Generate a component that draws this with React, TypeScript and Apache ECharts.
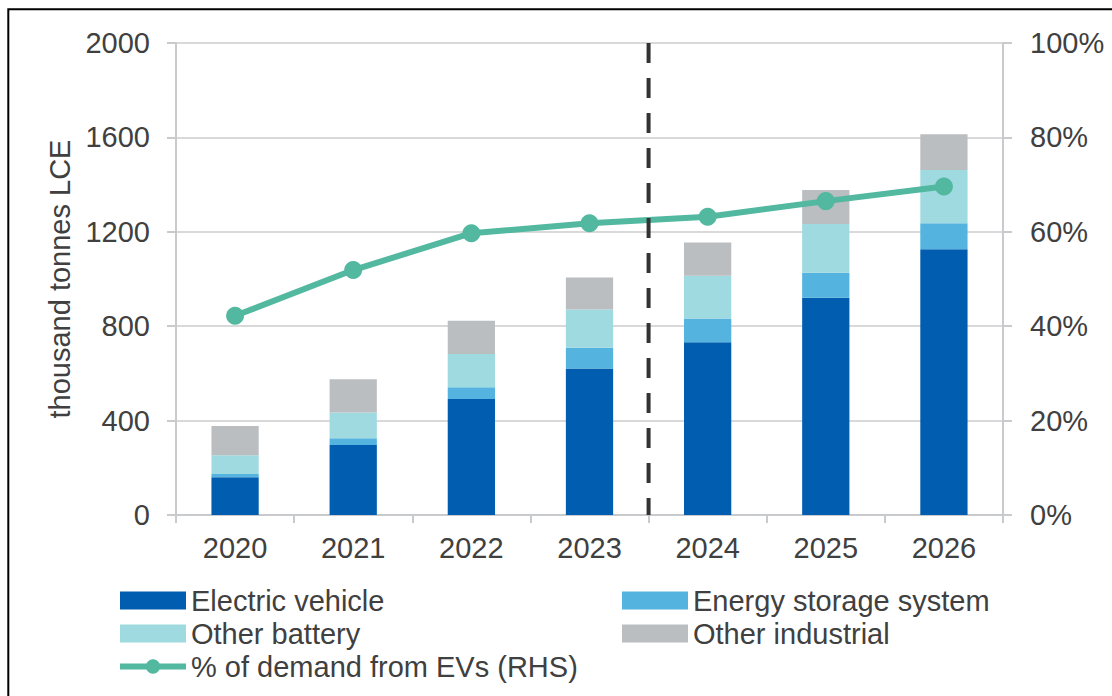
import React, { useEffect, useRef } from "react";
import * as echarts from "echarts";

const years = ["2020", "2021", "2022", "2023", "2024", "2025", "2026"];
const electricVehicle = [160, 297, 492, 621, 732, 921, 1126];
const energyStorage = [14, 28, 49, 88, 101, 106, 110];
const otherBattery = [79, 109, 141, 162, 181, 206, 226];
const otherIndustrial = [124, 141, 141, 135, 141, 144, 151];
const evSharePct = [42.2, 51.9, 59.7, 61.8, 63.2, 66.5, 69.6];
const forecastDivider = [[3.5, 2000], [3.5, 0]];

const TEXT = "#404040";
const AXIS = "#c9cacd";
const TEAL = "#52b8a0";
const FONT = "'Liberation Sans', Arial, sans-serif";

export default function App() {
  const ref = useRef<HTMLDivElement>(null);
  useEffect(() => {
    document.body.style.margin = "0";
    const chart = echarts.init(ref.current!, null, { renderer: "svg" });
    const barBase = { type: "bar", stack: "total", barWidth: "40%", xAxisIndex: 0, yAxisIndex: 0 };
    const legendText = { fontSize: 29, color: TEXT, fontFamily: FONT, lineHeight: 29 };
    chart.setOption({
      animation: false,
      textStyle: { fontFamily: FONT },
      graphic: [
        {
          type: "rect",
          shape: { x: 8.3, y: 9.3, width: 1300, height: 900 },
          style: { fill: "none", stroke: "#000", lineWidth: 2 },
          silent: true,
        },
      ],
      grid: { left: 176, right: 109, top: 43, bottom: 181, containLabel: false },
      legend: [
        {
          orient: "vertical",
          left: 117,
          top: 586,
          padding: 0,
          itemWidth: 66,
          itemHeight: 18,
          itemGap: 4,
          textStyle: legendText,
          data: [
            { name: "Electric vehicle", icon: "rect" },
            { name: "Other battery", icon: "rect" },
            { name: "% of demand from EVs (RHS)", lineStyle: { width: 6 } },
          ],
        },
        {
          orient: "vertical",
          left: 622,
          top: 586,
          padding: 0,
          itemWidth: 66,
          itemHeight: 18,
          itemGap: 4,
          textStyle: legendText,
          data: [
            { name: "Energy storage system", icon: "rect" },
            { name: "Other industrial", icon: "rect" },
          ],
        },
      ],
      xAxis: [
        {
          type: "category",
          data: years,
          axisLine: { onZero: false, lineStyle: { color: AXIS, width: 2 } },
          axisTick: { show: true, length: 8, lineStyle: { color: AXIS, width: 2 } },
          axisLabel: { fontSize: 29, color: TEXT, margin: 18, fontFamily: FONT },
          splitLine: { show: false },
        },
        {
          type: "value",
          min: -0.5,
          max: 6.5,
          show: false,
          axisLine: { show: false, onZero: false },
          axisTick: { show: false },
          axisLabel: { show: false },
          splitLine: { show: false },
        },
      ],
      yAxis: [
        {
          type: "value",
          min: 0,
          max: 2000,
          interval: 400,
          name: "thousand tonnes LCE",
          nameLocation: "middle",
          nameGap: 90,
          nameTextStyle: { fontSize: 29, color: TEXT, fontFamily: FONT },
          axisLine: { show: true, onZero: false, lineStyle: { color: AXIS, width: 2 } },
          axisTick: { show: true, length: 9, lineStyle: { color: AXIS, width: 2 } },
          axisLabel: { fontSize: 29, color: TEXT, margin: 26, fontFamily: FONT, formatter: (v: number) => String(v) },
          splitLine: { show: true, lineStyle: { color: "#d9d9d9", width: 2 } },
        },
        {
          type: "value",
          min: 0,
          max: 100,
          interval: 20,
          position: "right",
          axisLine: { show: true, onZero: false, lineStyle: { color: AXIS, width: 2 } },
          axisTick: { show: true, length: 9, lineStyle: { color: AXIS, width: 2 } },
          axisLabel: { fontSize: 29, color: TEXT, margin: 27, formatter: "{value}%", fontFamily: FONT },
          splitLine: { show: false },
        },
      ],
      series: [
        { ...barBase, name: "Electric vehicle", data: electricVehicle, itemStyle: { color: "#005daf" } },
        { ...barBase, name: "Energy storage system", data: energyStorage, itemStyle: { color: "#55b3df" } },
        { ...barBase, name: "Other battery", data: otherBattery, itemStyle: { color: "#9fdae0" } },
        { ...barBase, name: "Other industrial", data: otherIndustrial, itemStyle: { color: "#bbbec1" } },
        {
          type: "line",
          name: "% of demand from EVs (RHS)",
          xAxisIndex: 0,
          yAxisIndex: 1,
          data: evSharePct,
          symbol: "circle",
          symbolSize: 18,
          lineStyle: { color: TEAL, width: 6 },
          itemStyle: { color: TEAL },
          z: 5,
        },
        {
          type: "line",
          name: "divider",
          xAxisIndex: 1,
          yAxisIndex: 0,
          data: forecastDivider,
          symbol: "none",
          silent: true,
          lineStyle: { color: "#333333", width: 4, type: [20, 15] },
          z: 10,
        },
      ],
    });
    return () => chart.dispose();
  }, []);
  return <div ref={ref} style={{ width: 1112, height: 696 }} />;
}
